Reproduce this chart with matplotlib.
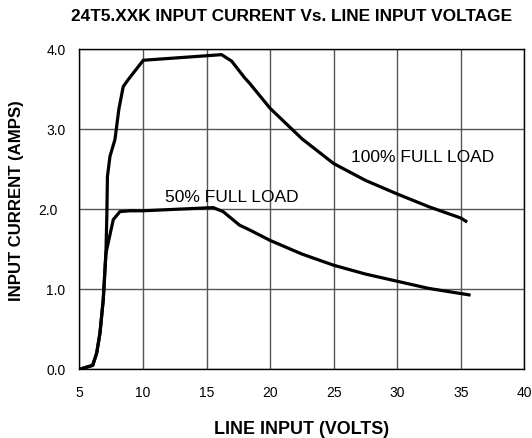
import numpy as np
import matplotlib.pyplot as plt
import matplotlib.transforms as mtrans

plt.rcParams['font.family'] = ['Liberation Sans', 'DejaVu Sans']

# lectura aproximada de la curva
v_full = [5.0, 6.04, 6.35, 6.61, 6.87, 7.08, 7.15, 7.2, 7.4, 7.79, 8.1, 8.44, 8.84,
          10.02, 16.18, 16.97, 18.0, 18.4, 20.0, 22.5, 25.0, 27.5, 30.0, 32.5, 35.0, 35.4]
i_full = [0.0, 0.05, 0.2, 0.45, 0.87, 1.45, 1.9, 2.41, 2.66, 2.87, 3.25, 3.53, 3.62,
          3.86, 3.93, 3.85, 3.64, 3.57, 3.26, 2.88, 2.57, 2.36, 2.19, 2.03, 1.89, 1.85]

v_half = [5.0, 6.04, 6.35, 6.61, 6.87, 7.08, 7.66, 8.18, 8.97, 10.0, 15.52, 16.3,
          17.6, 18.4, 20.0, 22.5, 25.0, 27.5, 30.0, 32.5, 35.65]
i_half = [0.0, 0.05, 0.2, 0.45, 0.87, 1.45, 1.87, 1.97, 1.98, 1.98, 2.02, 1.97,
          1.80, 1.74, 1.61, 1.44, 1.30, 1.19, 1.10, 1.01, 0.93]

xticks = [5, 10, 15, 20, 25, 30, 35, 40]
yticks = [0.0, 1.0, 2.0, 3.0, 4.0]

fig = plt.figure(figsize=(5.32, 4.38), dpi=100)
ax = fig.add_axes([0.1494, 0.1568, 0.8361, 0.7312])

ax.plot(v_full, i_full, color='black', lw=2.3, solid_joinstyle='round')
ax.plot(v_half, i_half, color='black', lw=2.3, solid_joinstyle='round')

ax.set_xlim(5, 40)
ax.set_ylim(0, 4)
ax.set_xticks(xticks)
ax.set_yticks(yticks)
ax.set_yticklabels(['%.1f' % t for t in yticks])
ax.grid(True, color='#555555', lw=1)
ax.tick_params(length=0, labelsize=10)
ax.tick_params(axis='x', pad=12)
ax.tick_params(axis='y', pad=10)
for s in ax.spines.values():
    s.set_linewidth(1)

# el "2.0" va un poco mas a la izquierda en el original
lbl = ax.get_yticklabels()[2]
lbl.set_transform(lbl.get_transform() + mtrans.ScaledTranslation(-6/72, 0, fig.dpi_scale_trans))

ax.text(11.72, 2.15, '50% FULL LOAD', fontsize=12.5, va='center', ha='left')
ax.text(26.4, 2.64, '100% FULL LOAD', fontsize=12.5, va='center', ha='left')

fig.text(0.5677, 0.0183, 'LINE INPUT (VOLTS)', fontsize=12.9, fontweight='bold',
         ha='center', va='center')
fig.text(0.031, 0.543, 'INPUT CURRENT (AMPS)', fontsize=12.1, fontweight='bold',
         ha='center', va='center', rotation=90)
fig.text(0.548, 0.962, '24T5.XXK INPUT CURRENT Vs. LINE INPUT VOLTAGE',
         fontsize=12.4, fontweight='bold', ha='center', va='center')

fig.savefig('out.png', dpi=100)
